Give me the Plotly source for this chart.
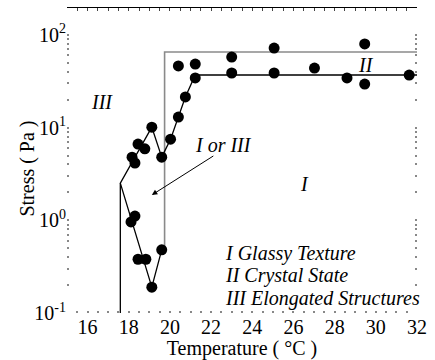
import plotly.graph_objects as go

# Measured stress vs temperature
temp = [18.16, 18.30, 18.45, 18.78, 19.12, 19.60, 20.03, 20.41, 20.75, 21.23,
        20.41, 21.23, 23.0, 23.0, 25.06, 25.06, 27.02, 28.6, 29.46, 29.46, 31.62,
        18.11, 18.30, 18.45, 18.83, 19.12, 19.60]
stress = [4.8, 4.15, 6.65, 5.9, 10.1, 4.8, 7.5, 13.0, 21.4, 34.3,
          46.2, 48.5, 57.7, 38.8, 72.1, 38.8, 43.9, 34.3, 79.8, 29.5, 36.9,
          0.96, 1.11, 0.38, 0.38, 0.19, 0.48]

# Phase boundaries
upper_T = [17.59, 17.59, 19.12, 19.60, 20.03, 20.41, 20.75, 21.23, 32.0]
upper_S = [0.1, 2.52, 10.1, 4.8, 7.5, 13.0, 21.4, 36.9, 36.9]
lower_T = [17.59, 19.12, 19.60]
lower_S = [2.52, 0.19, 0.48]
crystal_T = [19.74, 19.74, 32.0]
crystal_S = [0.48, 65.3, 65.3]

x_ticks = [16, 18, 20, 22, 24, 26, 28, 30, 32]
y_ticks = [0.1, 1, 10, 100]
y_ticktext = ["10<sup>-1</sup>", "10<sup>0</sup>", "10<sup>1</sup>", "10<sup>2</sup>"]

legend_lines = ["I Glassy Texture", "II Crystal State", "III Elongated Structures"]

SERIF = "Liberation Serif"
FS = 20

fig = go.Figure()
fig.add_trace(go.Scatter(x=crystal_T, y=crystal_S, mode="lines",
                         line=dict(color="#8a8a8a", width=1.6), hoverinfo="skip"))
fig.add_trace(go.Scatter(x=upper_T, y=upper_S, mode="lines",
                         line=dict(color="black", width=1.3), hoverinfo="skip"))
fig.add_trace(go.Scatter(x=lower_T, y=lower_S, mode="lines",
                         line=dict(color="black", width=1.3), hoverinfo="skip"))
fig.add_trace(go.Scatter(x=temp, y=stress, mode="markers",
                         marker=dict(color="black", size=11)))
# carrier for the top tick axis
fig.add_trace(go.Scatter(x=[20], y=[1], xaxis="x2", mode="markers",
                         marker=dict(opacity=0), hoverinfo="skip"))

annotations = [
    dict(x=16.72, y=1.276, text="<i>III</i>"),
    dict(x=29.51, y=1.675, text="<i>II</i>"),
    dict(x=26.54, y=0.391, text="<i>I</i>"),
    dict(x=22.61, y=0.812, text="<i>I or III</i>"),
]
anns = []
for a in annotations:
    anns.append(dict(xref="x", yref="y", showarrow=False,
                     font=dict(family=SERIF, size=FS, color="black"), **a))
# arrow pointing into the ambiguous region
anns.append(dict(x=19.12, y=0.273, ax=22.18, ay=0.704, xref="x", yref="y",
                 axref="x", ayref="y", text="", showarrow=True, arrowhead=2,
                 arrowsize=1.1, arrowwidth=1, arrowcolor="black"))
for i, txt in enumerate(legend_lines):
    anns.append(dict(x=22.57, y=-0.353 - 0.245 * i, xref="x", yref="y",
                     xanchor="left", showarrow=False, text=f"<i>{txt}</i>",
                     font=dict(family=SERIF, size=FS, color="black")))
anns.append(dict(x=-0.113, y=0.475, xref="paper", yref="paper", textangle=-90,
                 xanchor="center", yanchor="middle",
                 showarrow=False, text="Stress ( Pa )",
                 font=dict(family=SERIF, size=FS, color="black")))

dots = dict(ticks="inside", ticklen=2, tickwidth=1.5, tickcolor="#888888")

fig.update_layout(
    width=435, height=360,
    margin=dict(l=67, r=13, t=8, b=47),
    plot_bgcolor="white", paper_bgcolor="white",
    showlegend=False,
    font=dict(family=SERIF, size=FS, color="black"),
    xaxis=dict(range=[15, 32], tickvals=x_ticks, showgrid=False, zeroline=False,
               showline=False, mirror=False, ticks="inside", ticklen=2,
               tickwidth=1.5, tickcolor="#888888",
               minor=dict(dtick=0.5, tick0=15, **dots),
               tickfont=dict(family=SERIF, size=FS),
               title=dict(text="Temperature ( °C )", font=dict(family=SERIF, size=FS),
                          standoff=0)),
    xaxis2=dict(range=[15, 32], overlaying="x", side="top", anchor="y",
                showline=True, linecolor="black", linewidth=1.2, ticks="inside",
                ticklen=3, tickcolor="#444", dtick=0.5, tick0=15,
                showticklabels=False, showgrid=False, zeroline=False),
    yaxis=dict(type="log", range=[-1, 2.29], tickvals=y_ticks, ticktext=y_ticktext,
               showgrid=False, zeroline=False, showline=False, mirror="ticks",
               ticks="inside", ticklen=2, tickwidth=1.5, tickcolor="#888888",
               minor=dict(dtick="D1", **dots),
               tickfont=dict(family=SERIF, size=FS)),
    annotations=anns,
)

fig.write_html("out.html")
